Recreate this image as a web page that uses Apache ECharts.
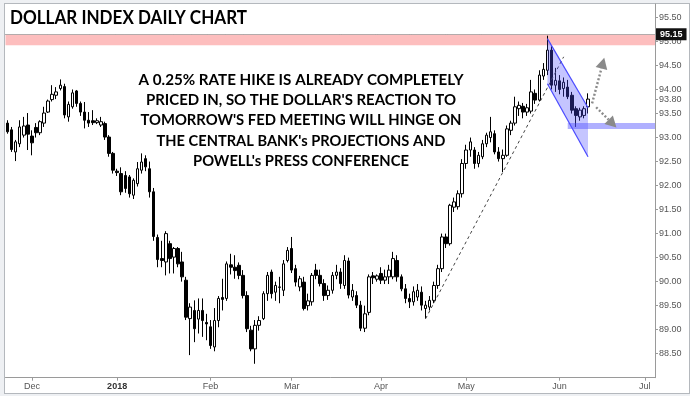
<!DOCTYPE html>
<html><head><meta charset="utf-8">
<script src="https://cdn.jsdelivr.net/npm/echarts@6/dist/echarts.min.js"></script>
<style>
html,body{margin:0;padding:0;background:#eef0f3;}
#frame{position:absolute;left:4px;top:3px;width:684px;height:389px;background:#fff;border:1px solid #b4b8bd;}
#c{position:absolute;left:0;top:0;width:690px;height:396px;}
</style>
</head><body><div id="frame"></div><div id="c"></div><script>
// ---------- categories (weekday sessions) ----------
const firstSession = '2017-11-23';
const lastSession = '2018-07-04';
const categories = [];
(function(){
  let d = new Date(firstSession + 'T00:00:00Z');
  const end = new Date(lastSession + 'T00:00:00Z');
  while (d <= end) {
    const wd = d.getUTCDay();
    if (wd !== 0 && wd !== 6) categories.push(d.toISOString().slice(0,10));
    d = new Date(d.getTime() + 86400000);
  }
})();

// ---------- OHLC series ----------
const opens = [
93.30,93.16,92.70,92.87,93.05,93.26,93.03,93.21,93.10,93.30,
93.53,93.79,93.88,94.02,94.06,93.43,93.64,93.97,93.71,93.53,
93.36,93.35,93.31,93.26,93.29,93.01,92.67,92.30,92.25,92.21,
92.18,91.80,92.04,92.32,92.56,92.35,91.87,90.92,90.48,90.41,
90.79,90.51,90.69,90.41,90.03,89.23,89.40,89.22,89.40,89.15,
89.06,88.64,89.19,89.67,89.65,90.35,90.30,90.34,90.13,89.71,
88.99,88.60,89.09,89.23,89.75,90.20,89.78,89.88,89.82,90.44,
90.69,90.27,89.89,89.99,89.50,89.58,90.24,90.13,89.96,89.71,
89.82,90.13,90.20,89.92,90.43,89.68,89.71,89.51,89.03,89.36,
90.12,90.05,90.17,90.03,90.10,90.10,90.44,90.10,89.85,89.65,
89.58,89.68,89.78,89.44,89.47,89.61,89.92,90.27,90.93,90.79,
91.55,91.56,91.83,92.46,92.74,92.74,92.46,92.60,92.87,93.00,
93.08,92.70,92.56,92.63,93.15,93.30,93.60,93.65,93.53,93.55,
93.92,93.78,94.28,94.40,94.82,94.09,94.18,94.02,94.05,93.88,
93.60,93.43,93.46,93.64];
const highs = [
93.36,93.22,92.95,93.36,93.43,93.51,93.15,93.30,93.36,93.64,
93.79,94.09,94.05,94.21,94.12,93.75,94.00,93.99,93.75,93.74,
93.53,93.57,93.40,93.43,93.33,93.05,92.70,92.35,92.38,92.30,
92.22,92.15,92.49,92.67,92.63,92.50,91.95,90.98,90.85,91.05,
90.85,90.72,90.72,90.62,90.10,89.55,89.61,89.65,89.65,89.33,
89.20,89.45,89.70,90.06,90.42,90.58,90.55,90.40,90.24,89.80,
89.08,89.20,89.28,89.80,90.20,90.25,90.00,90.10,90.45,90.72,
90.93,90.35,90.12,90.10,89.75,90.18,90.37,90.25,90.05,89.92,
90.20,90.35,90.28,90.55,90.50,89.95,89.80,89.60,89.50,90.15,
90.20,90.15,90.30,90.25,90.35,90.62,90.55,90.15,89.95,89.75,
89.90,89.95,89.90,89.60,89.70,90.00,90.35,91.00,91.00,91.62,
91.75,91.90,92.55,92.85,93.00,92.80,92.70,92.95,93.10,93.43,
93.15,92.80,92.75,93.25,93.35,93.85,93.75,93.72,93.70,94.20,
94.00,94.40,94.55,95.12,94.90,94.45,94.30,94.25,94.20,93.95,
93.65,93.62,93.65,93.92];
const lows = [
93.08,92.70,92.51,92.80,93.00,92.74,92.63,93.00,93.05,93.22,
93.51,93.75,93.80,93.98,93.40,93.33,93.60,93.64,93.45,93.19,
93.22,93.26,93.28,93.22,92.95,92.60,92.25,92.20,91.80,91.85,
91.75,91.72,91.98,92.25,92.30,91.75,90.85,90.30,90.30,90.13,
90.17,90.17,90.30,90.00,89.20,88.47,88.74,88.92,88.85,88.78,
88.60,88.55,89.05,89.40,89.60,90.15,90.06,90.05,89.65,88.95,
88.55,88.29,88.98,89.20,89.60,89.65,89.60,89.55,89.70,90.40,
90.18,89.90,89.80,89.40,89.40,89.50,90.05,89.90,89.60,89.62,
89.75,90.05,89.85,89.85,89.65,89.60,89.45,88.97,88.95,89.30,
89.95,90.00,89.95,89.95,89.95,90.05,90.00,89.80,89.55,89.45,
89.50,89.60,89.40,89.23,89.40,89.55,89.85,90.20,90.70,90.75,
91.45,91.50,91.75,92.35,92.60,92.35,92.38,92.55,92.80,92.90,
92.65,92.50,92.28,92.60,93.05,93.25,93.45,93.40,93.45,93.50,
93.70,93.75,94.20,94.30,94.00,93.95,93.90,93.85,93.80,93.50,
93.22,93.35,93.40,93.50];
const closes = [
93.12,92.75,92.91,93.22,93.24,93.07,92.89,93.10,93.33,93.51,
93.76,93.90,93.95,94.09,93.47,93.69,93.93,93.71,93.53,93.36,
93.30,93.31,93.35,93.33,93.01,92.67,92.32,92.27,91.87,91.94,
91.83,92.11,92.35,92.49,92.39,91.87,90.94,90.46,90.44,91.00,
90.48,90.69,90.37,90.10,89.26,89.47,89.02,89.40,89.19,89.12,
88.67,89.19,89.65,89.63,90.37,90.30,90.23,90.13,89.71,89.02,
88.60,89.09,89.19,89.75,90.13,89.75,89.92,89.89,90.37,90.65,
90.24,89.99,90.06,89.44,89.60,90.13,90.13,89.96,89.71,89.82,
90.13,90.20,89.96,90.44,89.72,89.82,89.51,89.03,89.33,90.10,
90.08,90.12,90.03,90.10,90.24,90.48,90.10,89.85,89.65,89.58,
89.79,89.82,89.51,89.51,89.61,89.92,90.27,90.93,90.79,91.59,
91.66,91.83,92.46,92.74,92.91,92.46,92.63,92.87,93.05,93.12,
92.70,92.56,92.63,93.18,93.30,93.64,93.67,93.53,93.62,93.95,
93.78,94.30,94.42,94.82,94.09,94.19,94.00,94.15,93.85,93.57,
93.46,93.57,93.60,93.80];

// ---------- axis / annotation values ----------
const yTickValues = [88.5,89,89.5,90,90.5,91,91.5,92,92.5,93,93.5,94,94.5,95,95.5,93.8];
const yMin = 88, yMax = 95.78;
const resistanceLevel = 95.15;
const resistanceBand = [95.14, 94.92];
const supportZone = [[138.0, 93.30], [93.18]];
const trendLine = [[102.97, 89.23], [136.8, 94.68]];
const channel = [[133.0, 95.06], [143.26, 93.62], [143.26, 92.60], [133.4, 94.12]];
const arrowUp = [[144.1, 93.71], [147.0, 94.66]];
const arrowDown = [[144.7, 93.63], [149.9, 93.21]];
const titleText = 'DOLLAR INDEX DAILY CHART';
const noteLines = [
  'A 0.25% RATE HIKE IS ALREADY COMPLETELY',
  "PRICED IN, SO THE DOLLAR'S REACTION TO",
  "TOMORROW'S FED MEETING WILL HINGE ON",
  "THE CENTRAL BANK's PROJECTIONS AND",
  "POWELL's PRESS CONFERENCE"
];

// ---------- build ----------
const ohlc = opens.map((o, i) => [o, closes[i], lows[i], highs[i]]);
const monthNames = ['Jan','Feb','Mar','Apr','May','Jun','Jul','Aug','Sep','Oct','Nov','Dec'];
function isMonthStart(i) {
  if (i === 0) return false;
  return categories[i].slice(5,7) !== categories[i-1].slice(5,7);
}
const mctx = document.createElement('canvas').getContext('2d');
function textWidth(t, font) { mctx.font = font; return mctx.measureText(t).width; }

const chart = echarts.init(document.getElementById('c'), null, {renderer: 'canvas'});

function renderBand(params, api) {
  const cs = params.coordSys;
  const y1 = api.coord([0, resistanceBand[0]])[1];
  const y2 = api.coord([0, resistanceBand[1]])[1];
  return {type: 'rect', shape: {x: cs.x, y: y1, width: cs.width, height: y2 - y1},
    style: {fill: 'rgba(250,100,100,0.42)'}};
}
function arrowShapes(a, b, color) {
  const dx = b[0]-a[0], dy = b[1]-a[1];
  const len = Math.sqrt(dx*dx+dy*dy); const ux = dx/len, uy = dy/len;
  const L = 11, W = 6;
  const bx = b[0]-ux*L, by = b[1]-uy*L;
  return [
    {type:'line', shape:{x1:a[0],y1:a[1],x2:bx,y2:by}, style:{stroke:color, lineWidth:2.4, lineDash:[2,2]}},
    {type:'polygon', shape:{points:[[b[0],b[1]],[bx-uy*W,by+ux*W],[bx+uy*W,by-ux*W]]}, style:{fill:color}}
  ];
}
function renderOverlay(params, api) {
  const cs = params.coordSys;
  const P = p => api.coord(p);
  const ch = [];
  const t0 = P(trendLine[0]), t1 = P(trendLine[1]);
  ch.push({type:'line', shape:{x1:t0[0],y1:t0[1],x2:t1[0],y2:t1[1]}, style:{stroke:'#444', lineWidth:1, lineDash:[3,3]}});
  const c = channel.map(P);
  ch.push({type:'polygon', shape:{points:c}, style:{fill:'rgba(80,80,255,0.33)'}});
  ch.push({type:'line', shape:{x1:c[0][0],y1:c[0][1],x2:c[1][0],y2:c[1][1]}, style:{stroke:'#4a4aff', lineWidth:1.2}});
  ch.push({type:'line', shape:{x1:c[3][0],y1:c[3][1],x2:c[2][0],y2:c[2][1]}, style:{stroke:'#4a4aff', lineWidth:1.2}});
  const s0 = P(supportZone[0]); const s1y = P([0, supportZone[1][0]])[1];
  ch.push({type:'rect', shape:{x:s0[0], y:s0[1], width: cs.x + cs.width - s0[0], height: s1y - s0[1]}, style:{fill:'rgba(80,80,255,0.45)'}});
  arrowShapes(P(arrowUp[0]), P(arrowUp[1]), '#8a8a8a').forEach(e => ch.push(e));
  arrowShapes(P(arrowDown[0]), P(arrowDown[1]), '#8a8a8a').forEach(e => ch.push(e));
  return {type:'group', children: ch};
}

const titleFont = 'bold 18.5px Lato';
const noteFont = 'bold 15px Lato';
const noteTargets = [325, 310, 321, 289, 216];
const noteY = [80, 100.3, 120.6, 140.9, 161.2];
const graphics = [{
  type:'text', x: 10, y: 18.5, z: 100,
  scaleX: 237 / textWidth(titleText, titleFont),
  style:{text: titleText, font: titleFont, fill:'#000', align:'left', verticalAlign:'middle', textAlign:'left', textVerticalAlign:'middle'}
}];
noteLines.forEach((t, i) => {
  graphics.push({type:'text', x: 301, y: noteY[i], z: 100,
    scaleX: noteTargets[i] / textWidth(t, noteFont),
    style:{text: t, font: noteFont, fill:'#000', align:'center', verticalAlign:'middle', textAlign:'center', textVerticalAlign:'middle'}});
});

const axisFont = 'Liberation Sans';
chart.setOption({
  animation: false,
  backgroundColor: 'transparent',
  grid: {left: 5.5, right: 35, top: 4, bottom: 18.3},
  xAxis: {
    type: 'category', data: categories, boundaryGap: true,
    axisLine: {lineStyle: {color: '#9a9a9a'}},
    axisTick: {show: true, interval: isMonthStart, alignWithLabel: true, length: 3, lineStyle: {color: '#9a9a9a'}},
    axisLabel: {
      interval: isMonthStart, margin: 4, fontSize: 9, color: '#555', fontFamily: axisFont,
      formatter: v => { const m = +v.slice(5,7); return m === 1 ? '{b|' + v.slice(0,4) + '}' : monthNames[m-1]; },
      rich: {b: {fontWeight: 'bold', color: '#333', fontSize: 9, fontFamily: axisFont}}
    },
    splitLine: {show: false}
  },
  yAxis: {
    type: 'value', position: 'right', min: yMin, max: yMax, interval: 0.5,
    axisLine: {show: true, lineStyle: {color: '#9a9a9a'}},
    axisTick: {show: true, length: 3, customValues: yTickValues, lineStyle: {color: '#9a9a9a'}},
    axisLabel: {margin: 4, fontSize: 9, color: '#555', fontFamily: axisFont, customValues: yTickValues,
      formatter: v => (yTickValues.some(t => Math.abs(t - v) < 1e-6) ? v.toFixed(2) : '')},
    splitLine: {show: false}
  },
  graphic: graphics,
  series: [
    {type: 'custom', name: 'band', renderItem: renderBand, data: [[0, 0]], z: 1, silent: true},
    {
      type: 'candlestick', name: 'DXY', data: ohlc, barWidth: 3, z: 2,
      itemStyle: {color: '#ffffff', color0: '#000000', borderColor: '#000000', borderColor0: '#000000', borderWidth: 1},
      markLine: {
        silent: true, symbol: ['none', 'none'], animation: false,
        lineStyle: {color: '#666', type: 'dotted', width: 1},
        label: {show: true, position: 'end', distance: 1, formatter: '95.15', color: '#fff', backgroundColor: '#111',
          fontWeight: 'bold', fontSize: 9, fontFamily: axisFont, padding: [2, 4, 1, 4]},
        data: [{yAxis: resistanceLevel}]
      }
    },
    {type: 'custom', name: 'overlay', renderItem: renderOverlay, data: [[0, 0]], z: 3, silent: true}
  ]
});
</script></body></html>
